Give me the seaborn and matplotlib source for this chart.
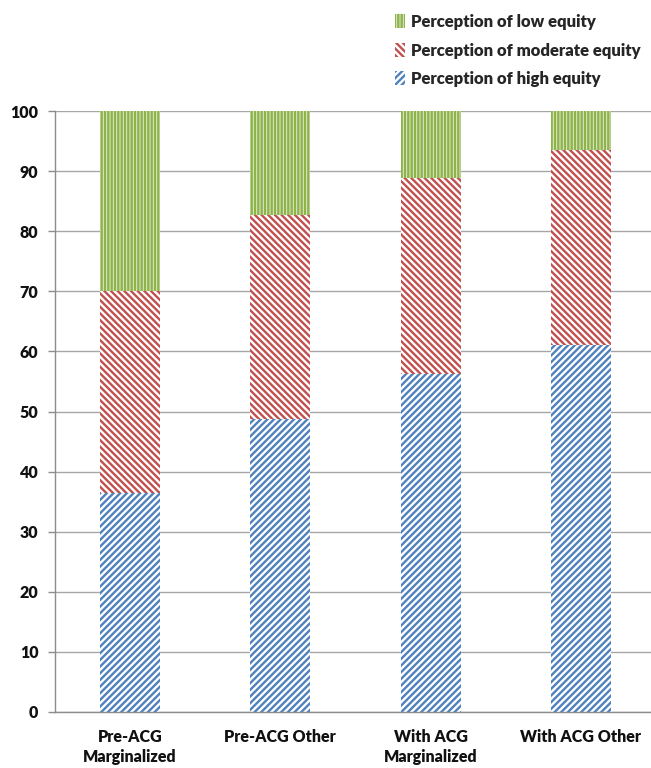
import matplotlib
matplotlib.use("Agg")
import matplotlib.pyplot as plt
import matplotlib.patches as mpatches
import numpy as np
import pandas as pd
import seaborn as sns

categories = ["Pre-ACG\nMarginalized", "Pre-ACG Other", "With ACG\nMarginalized", "With ACG Other"]
high_equity = [36.5, 48.7, 56.2, 61.1]
moderate_equity = [33.5, 34.0, 32.7, 32.4]
low_equity = [30.0, 17.3, 11.1, 6.5]
yticks = list(range(0, 101, 10))

series_names = ["Perception of low equity", "Perception of moderate equity", "Perception of high equity"]
series_colors = ["#8DB34A", "#C0504D", "#4F81BD"]
series_faces = ["#E2ECCF", "white", "white"]
series_hatches = ["|||||", "\\\\\\\\\\", "/////"]

sns.set_theme(style="white")
plt.rcParams["font.family"] = ["Lato", "DejaVu Sans"]
plt.rcParams["hatch.linewidth"] = 1.7

fig = plt.figure(figsize=(6.51, 7.68), dpi=100)
ax = fig.add_axes([55 / 651, 1 - 712 / 768, (656 - 55) / 651, (712 - 111) / 768])

high = np.array(high_equity)
mod = np.array(moderate_equity)
low = np.array(low_equity)
# stacked totals drawn back to front: each layer covers the one below it
layers = [high + mod + low, high + mod, high]

for total, color, face, hatch in zip(layers, series_colors, series_faces, series_hatches):
    df = pd.DataFrame({"group": categories, "value": total})
    sns.barplot(data=df, x="group", y="value", color="white", width=0.4, ax=ax,
                errorbar=None, order=categories)
    for patch in ax.containers[-1]:
        patch.set_facecolor(face)
        patch.set_edgecolor(color)
        patch.set_linewidth(0)
        patch.set_hatch(hatch)

ax.set_xlim(-0.5, 3.5)
ax.set_ylim(0, 100)
ax.set_yticks(yticks)
ax.set_yticklabels([str(t) for t in yticks], fontsize=11.5, fontweight="heavy", color="#111111")
ax.set_xlabel("")
ax.set_ylabel("")
ax.set_xticks(range(len(categories)))
ax.set_xticklabels(categories, fontsize=11.5, fontweight="heavy", color="#111111", linespacing=1.3)
ax.tick_params(axis="x", length=0, pad=12)
ax.set_xticks([0.5, 1.5, 2.5], minor=True)
ax.tick_params(axis="x", which="minor", length=5, color="#8c8c8c", width=1, direction="out")
ax.tick_params(axis="y", length=5, color="#8c8c8c", width=1, direction="out", pad=7, left=True)

ax.yaxis.grid(True, color="#a6a6a6", linewidth=1.0)
ax.set_axisbelow(True)
for side in ["top", "right"]:
    ax.spines[side].set_visible(False)
for side in ["left", "bottom"]:
    ax.spines[side].set_color("#8c8c8c")
    ax.spines[side].set_linewidth(1.0)

handles = [mpatches.Patch(facecolor=f, edgecolor=c, linewidth=0, hatch=h)
           for c, f, h in zip(series_colors, series_faces, series_hatches)]
fig.legend(handles, series_names, loc="upper left", bbox_to_anchor=(380 / 651, 1 + 1 / 768),
           frameon=False, handlelength=0.6, handleheight=0.9, handletextpad=0.35,
           labelspacing=0.75, prop={"weight": "heavy", "size": 12})

fig.savefig("out.png", dpi=100)
